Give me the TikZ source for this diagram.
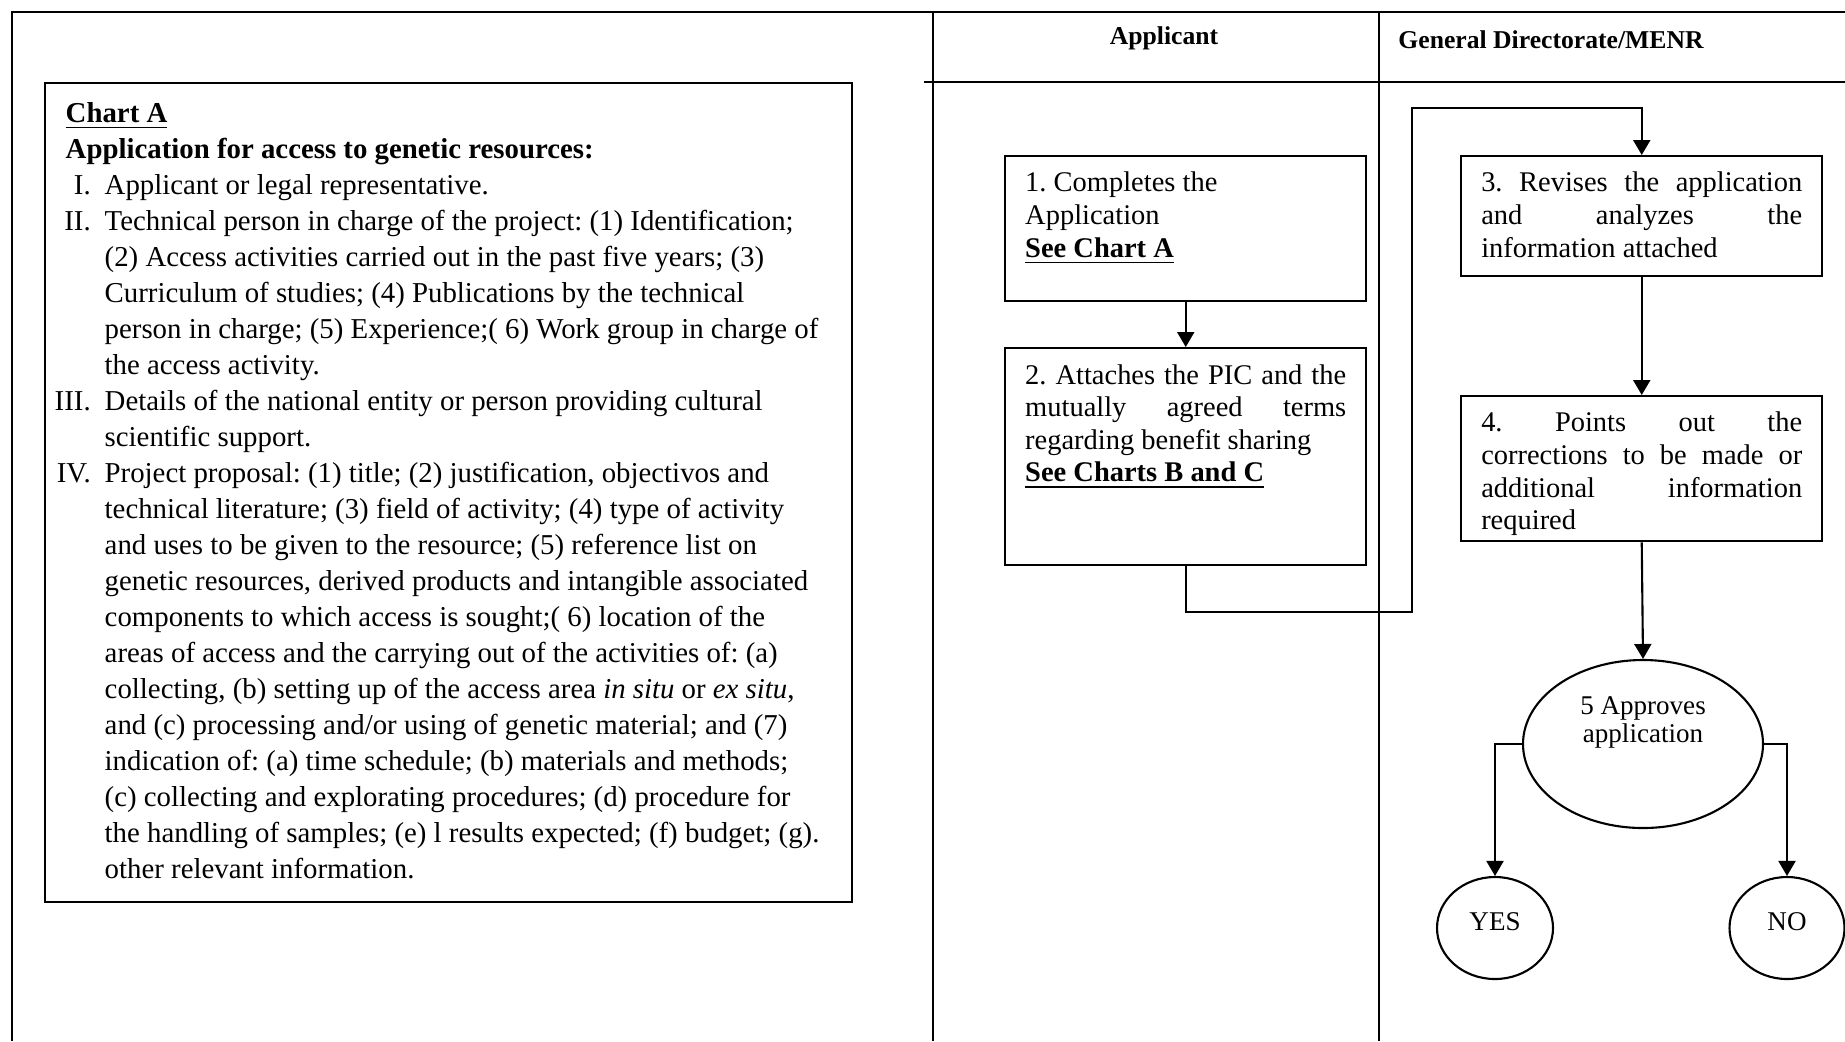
\documentclass[tikz,border=0pt]{standalone}
\usepackage{fontspec}
\setmainfont{Liberation Serif}
\usepackage{tikz}
\usetikzlibrary{shapes.geometric, arrows.meta, positioning}
\frenchspacing

\begin{document}
\begin{tikzpicture}[
  box/.style={draw, line width=0.7pt, anchor=north west, inner xsep=0.2cm, inner ysep=0.16cm,
              font=\fontsize{8.1}{9.27}\selectfont},
  chart/.style={draw, line width=0.7pt, anchor=north west, inner xsep=0.1cm, inner ysep=0.14cm,
              font=\fontsize{8.2}{10.24}\selectfont},
  oval/.style={draw, ellipse, line width=0.6pt, inner sep=0pt, font=\fontsize{7.7}{8}\selectfont},
  answer/.style={oval, minimum width=1.16cm, minimum height=1.02cm, text depth=0.12cm},
  head/.style={font=\bfseries\fontsize{7.3}{8}\selectfont},
  lane/.style={line width=0.6pt},
  arr/.style={-{Triangle[length=0.15cm, width=0.17cm]}, line width=0.6pt},
]
  \useasboundingbox (0,0) rectangle (18.45,-10.41);
  % Frame and lanes
  \draw[lane] (0.12,-10.41) -- (0.12,-0.12) -- (18.45,-0.12);
  \draw[lane] (9.33,-0.12) -- (9.33,-10.41);
  \draw[lane] (13.79,-0.12) -- (13.79,-10.41);
  \draw[lane] (9.24,-0.82) -- (18.45,-0.82);
  % Lane headers
  \node[head, anchor=base] (hApp) at (11.64,-0.44) {Applicant};
  \node[head, anchor=base west] (hDir) at (13.86,-0.48) {General Directorate/MENR};
  % Chart A
  \node[chart] (chartA) at (0.435,-0.82) {\parbox[t][7.91cm][t]{7.875cm}{%
    \begin{tabular}[t]{@{}r@{\hspace{0.14cm}}l@{}}
    \multicolumn{2}{@{\hspace{0.11cm}}l@{}}{\textbf{\underline{Chart A}}}\\
    \multicolumn{2}{@{\hspace{0.11cm}}l@{}}{\textbf{Application for access to genetic resources:}}\\
    I. & Applicant or legal representative.\\
    II. & Technical person in charge of the project: (1) Identification;\\
        & (2) Access activities carried out in the past five years; (3)\\
        & Curriculum of studies; (4) Publications by the technical\\
        & person in charge; (5) Experience;( 6) Work group in charge of\\
        & the access activity.\\
    III. & Details of the national entity or person providing cultural\\
         & scientific support.\\
    IV. & Project proposal: (1) title; (2) justification, objectivos and\\
        & technical literature; (3) field of activity; (4) type of activity\\
        & and uses to be given to the resource; (5) reference list on\\
        & genetic resources, derived products and intangible associated\\
        & components to which access is sought;( 6) location of the\\
        & areas of access and the carrying out of the activities of: (a)\\
        & collecting, (b) setting up of the access area \textit{in situ} or \textit{ex situ},\\
        & and (c) processing and/or using of genetic material; and (7)\\
        & indication of: (a) time schedule; (b) materials and methods;\\
        & (c) collecting and explorating procedures; (d) procedure for\\
        & the handling of samples; (e) l results expected; (f) budget; (g).\\
        & other relevant information.
    \end{tabular}}};
  % Applicant lane
  \node[box] (app1) at (10.04,-1.55) {\parbox[t][1.13cm][t]{3.21cm}{\raggedright
    1. Completes the\\ Application\\ \textbf{\underline{See Chart A}}}};
  \node[box] (app2) at (10.04,-3.47) {\parbox[t][1.85cm][t]{3.21cm}{\raggedright
    \makebox[\linewidth][s]{2. Attaches the PIC and the}\\
    \makebox[\linewidth][s]{mutually agreed terms}\\
    regarding benefit sharing\\ \textbf{\underline{See Charts B and C}}}};
  % Directorate lane
  \node[box] (dir3) at (14.60,-1.55) {\parbox[t][0.88cm][t]{3.21cm}{\raggedright
    \makebox[\linewidth][s]{3. Revises the application}\\
    \makebox[\linewidth][s]{and analyzes the}\\
    information attached}};
  \node[box] (dir4) at (14.60,-3.95) {\parbox[t][1.13cm][t]{3.21cm}{\raggedright
    \makebox[\linewidth][s]{4. Points out the}\\
    \makebox[\linewidth][s]{corrections to be made or}\\
    \makebox[\linewidth][s]{additional information}\\
    required}};
  \node[oval, minimum width=2.40cm, minimum height=1.68cm,
        label={[font=\fontsize{7.7}{8}\selectfont, align=center, yshift=0.22cm]center:{5 Approves\\application}}]
        (approve) at (16.43,-7.44) {};
  \node[answer] (yes) at (14.95,-9.28) {YES};
  \node[answer, minimum width=1.15cm] (no) at (17.87,-9.28) {NO};
  % Connectors
  \coordinate (loopA) at (14.12,-6.12);
  \coordinate (loopB) at (14.12,-1.08);
  \draw[arr] (app1) -- (app2);
  \draw[arr] (app2.south) |- (loopA) -- (loopB) -| (dir3.north);
  \draw[arr] (dir3) -- (dir4);
  \draw[arr] (dir4.south) -- (approve.north);
  \draw[arr] (approve.west) -| (yes.north);
  \draw[arr] (approve.east) -| (no.north);
\end{tikzpicture}
\end{document}
